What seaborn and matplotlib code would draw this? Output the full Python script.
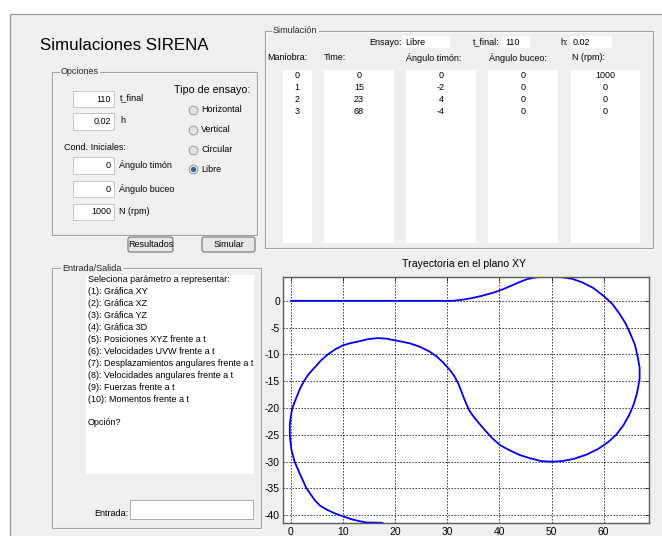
import numpy as np
import pandas as pd
import matplotlib
matplotlib.use("Agg")
import matplotlib.pyplot as plt
from matplotlib.patches import Rectangle, FancyBboxPatch
from matplotlib.lines import Line2D
import seaborn as sns

# ---- simulation inputs ----
t_final = 110
h_step = 0.02
ensayo = "Libre"
tipos_ensayo = ["Horizontal", "Vertical", "Circular", "Libre"]

maniobra = [0, 1, 2, 3]
tiempo = [0, 15, 23, 68]
angulo_timon = [0, -2, 4, -4]
angulo_buceo = [0, 0, 0, 0]
n_rpm = [1000, 0, 0, 0]

menu_lines = [
    "Seleciona parámetro a representar:",
    "(1): Gráfica XY",
    "(2): Gráfica XZ",
    "(3): Gráfica YZ",
    "(4): Gráfica 3D",
    "(5): Posiciones XYZ frente a t",
    "(6): Velocidades UVW frente a t",
    "(7): Desplazamientos angulares frente a t",
    "(8): Velocidades angulares frente a t",
    "(9): Fuerzas frente a t",
    "(10): Momentos frente a t",
    "",
    "Opción?",
]

# ---- trajectory in the XY plane (straight run, right-hand loop, left-hand loop) ----
traj_x = [0.0, 31.0, 32.5, 34.4, 36.5, 38.8, 40.8, 42.7, 44.0, 45.2, 46.5, 47.8, 49.0, 50.1,
          52.0, 54.0, 56.0, 58.0, 60.0, 61.6, 63.1, 64.2, 65.1, 66.0, 66.5, 66.9, 66.9,
          66.6, 66.3, 65.7, 64.9, 63.8, 62.4, 60.8, 59.0, 56.7, 54.2, 52.0, 50.1, 48.0,
          46.0, 44.0, 42.0, 40.1, 38.6, 37.2, 35.8, 34.9, 34.2, 33.6, 33.1, 32.6, 32.1,
          31.4, 30.5,
          29.3, 28.0, 26.5, 24.8, 22.9, 21.2, 19.9, 18.3, 16.7, 14.8, 12.9, 11.4, 10.0,
          8.5, 7.1, 5.8, 4.6, 3.4, 2.5, 1.7, 1.1, 0.25, -0.2, -0.2, 0.13, 0.76, 1.7,
          3.0, 4.6, 5.6, 6.8, 8.3, 10.0, 11.5, 12.9, 14.5, 17.6]
traj_y = [0.0, 0.0, 0.15, 0.44, 0.9, 1.5, 2.2, 3.0, 3.55, 4.0, 4.3, 4.45, 4.5, 4.5,
          4.4, 4.1, 3.4, 2.4, 0.9, -0.5, -2.5, -4.2, -6.1, -8.2, -10.3, -12.5, -14.5,
          -16.2, -17.6, -19.5, -21.3, -23.2, -25.0, -26.4, -27.6, -28.7, -29.5, -29.9,
          -30.0, -29.9, -29.4, -28.8, -27.9, -26.9, -25.6, -24.1, -22.5, -21.4, -20.4,
          -19.1, -17.9, -16.6, -15.4, -14.1, -12.9,
          -11.6, -10.4, -9.4, -8.6, -7.95, -7.6, -7.35, -7.05, -6.95, -7.15, -7.6, -7.9,
          -8.3, -9.05, -10.0, -11.1, -12.4, -13.7, -15.0, -16.5, -17.95, -20.1, -22.9,
          -25.2, -27.9, -30.1, -32.2, -35.0, -37.2, -38.2, -38.9, -39.6, -40.2, -40.7,
          -41.05, -41.35, -41.4]

x_ticks = [0, 10, 20, 30, 40, 50, 60]
y_ticks = [0, -5, -10, -15, -20, -25, -30, -35, -40]

sns.set_style("white")
plt.rcParams["font.family"] = ["Liberation Sans", "DejaVu Sans"]

W, H = 662, 536
BG = "#f0f0f0"
fig = plt.figure(figsize=(W / 100, H / 100), dpi=100, facecolor="white")


def fx(x):
    return x / W


def fy(y):
    return 1 - y / H


def rect(x0, y0, x1, y1, fc="none", ec="none", lw=0.8, z=1):
    fig.patches.append(Rectangle((fx(x0), fy(y1)), (x1 - x0) / W, (y1 - y0) / H,
                                 transform=fig.transFigure, facecolor=fc,
                                 edgecolor=ec, linewidth=lw, zorder=z))


def text(x, y, s, size=6.5, ha="left", **kw):
    fig.text(fx(x), fy(y), s, fontsize=size, ha=ha, va="center", color="black",
             zorder=6, **kw)


def panel(x0, y0, x1, y1, label, lx):
    rect(x0 + 1, y0 + 1, x1 + 1, y1 + 1, ec="white", lw=0.8)
    rect(x0, y0, x1, y1, ec="#a0a0a0", lw=0.8, z=2)
    fig.text(fx(lx), fy(y0), label, fontsize=6.5, ha="left", va="center", zorder=3,
             bbox=dict(boxstyle="square,pad=0.15", fc=BG, ec="none"))


def edit(x0, y0, x1, y1, ec="#c8c8c8"):
    rect(x0, y0, x1, y1, fc="white", ec=ec, lw=0.7, z=3)


def button(x0, y0, x1, y1, label):
    fig.patches.append(FancyBboxPatch((fx(x0), fy(y1)), (x1 - x0) / W, (y1 - y0) / H,
                                      boxstyle="round,pad=0,rounding_size=0.004",
                                      transform=fig.transFigure, facecolor="#e8e8e8",
                                      edgecolor="#707070", linewidth=0.8, zorder=3))
    text((x0 + x1) / 2, (y0 + y1) / 2, label, ha="center")


# window background and frame
rect(10, 14, W + 2, H + 2, fc=BG, ec="none", z=0)
fig.add_artist(Line2D([fx(10), fx(W)], [fy(14), fy(14)], color="#9a9a9a", lw=0.9))
fig.add_artist(Line2D([fx(10), fx(10)], [fy(14), fy(H)], color="#9a9a9a", lw=0.9))

text(40, 46, "Simulaciones SIRENA", size=12.2)

# ---- Opciones panel ----
panel(52, 71.7, 257, 235, "Opciones", 61)
edit(72.7, 90.7, 114, 107.3)
text(111, 99, f"{t_final}", ha="right")
text(120, 98, "t_final")
edit(72.7, 113, 114, 130)
text(111, 121.5, f"{h_step}", ha="right")
text(120, 120.5, "h")
text(64, 147, "Cond. Iniciales:")
cond_labels = ["Ángulo timón", "Ángulo buceo", "N (rpm)"]
cond_values = [angulo_timon[0], angulo_buceo[0], n_rpm[0]]
cond_boxes = [(157, 174), (181, 197), (204, 220)]
for lab, val, (b0, b1) in zip(cond_labels, cond_values, cond_boxes):
    edit(72.7, b0, 114, b1)
    text(111, (b0 + b1) / 2, f"{val}", ha="right")
    text(119, (b0 + b1) / 2 - 0.5, lab)

text(174, 90, "Tipo de ensayo:", size=7.7)
for i, tipo in enumerate(tipos_ensayo):
    yy = 110 + i * 19.8
    sel = tipo == ensayo
    fig.add_artist(Line2D([fx(192.7)], [fy(yy)], marker="o", ms=6.3,
                          mfc="#e4e4e4", mec="#9a9a9a", mew=0.7,
                          transform=fig.transFigure, zorder=4))
    if sel:
        fig.add_artist(Line2D([fx(192.7)], [fy(yy)], marker="o", ms=3.2,
                              mfc="#1f6fb0", mec="#0d3f73", mew=0.4,
                              transform=fig.transFigure, zorder=5))
    text(201, yy, tipo)

button(128, 237, 173, 252, "Resultados")
button(202, 237, 255, 252, "Simular")

# ---- Simulación panel ----
panel(265, 30.7, 652.7, 248, "Simulación", 273)
text(402, 42, "Ensayo:", ha="right")
edit(403, 35.7, 450, 47.7, ec="none")
text(405, 42, ensayo)
text(473, 42, "t_final:")
edit(503, 35.7, 530, 47.7, ec="none")
text(505, 42, f"{t_final}")
text(560, 42, "h:")
edit(571, 35.7, 612, 47.7, ec="none")
text(573, 42, f"{h_step}")

columns = [
    ("Maniobra:", 267.5, (282.7, 311.7), maniobra),
    ("Time:", 324, (324, 394), tiempo),
    ("Ángulo timón:", 406.5, (406, 476), angulo_timon),
    ("Ángulo buceo:", 489, (488, 558), angulo_buceo),
    ("N (rpm):", 571.5, (571, 640), n_rpm),
]
for head, hx, (c0, c1), vals in columns:
    text(hx, 58, head)
    edit(c0, 70, c1, 242.7, ec="none")
    for r, v in enumerate(vals):
        text((c0 + c1) / 2, 76 + r * 11.9, f"{v}", ha="center")

# ---- Entrada/Salida panel ----
panel(51.7, 268.3, 260.7, 528, "Entrada/Salida", 62)
edit(86, 275, 254, 474, ec="none")
for i, line in enumerate(menu_lines):
    if line:
        text(88, 280 + i * 11.9, line)
text(94, 513, "Entrada:")
edit(130, 500, 253, 519, ec="#a8a8a8")

# ---- XY trajectory plot ----
ax = fig.add_axes([fx(282.5), fy(523.3), (649 - 282.5) / W, (523.3 - 276.7) / H])
ax.set_zorder(10)
ax.set_facecolor("white")
traj = pd.DataFrame({"x": traj_x, "y": traj_y})
sns.lineplot(data=traj, x="x", y="y", sort=False, estimator=None,
             color="#0000ff", linewidth=1.3, ax=ax)
ax.set_xlim(-1.6, 68.7)
ax.set_ylim(-41.5, 4.5)
ax.set_xticks(x_ticks)
ax.set_yticks(y_ticks)
ax.set_xticklabels([str(v) for v in x_ticks])
ax.set_yticklabels([str(v) for v in y_ticks])
ax.set_xlabel("")
ax.set_ylabel("")
ax.grid(True, color="black", linestyle=(0, (1.6, 2.0)), linewidth=0.6)
ax.set_axisbelow(True)
ax.tick_params(direction="in", length=3, width=0.7, labelsize=7.5,
               top=True, right=True, colors="#262626", labelcolor="black")
ax.tick_params(axis="y", pad=1.8)
ax.tick_params(axis="x", pad=2.5)
for s in ax.spines.values():
    s.set_color("#5a5a5a")
    s.set_linewidth(1.0)
text(464, 264, "Trayectoria en el plano XY", size=7.6, ha="center")

fig.savefig("out.png", dpi=100, facecolor=fig.get_facecolor())
